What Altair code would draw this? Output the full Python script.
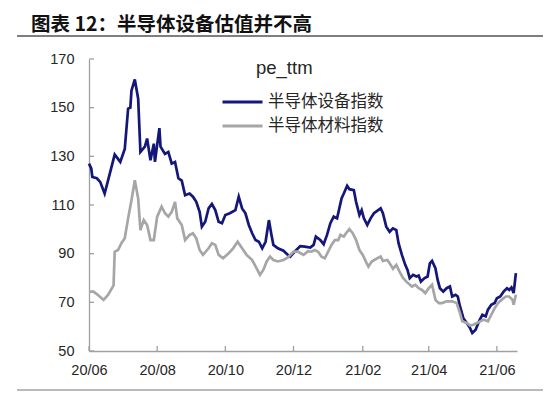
import altair as alt
import pandas as pd

# ---------------- data ----------------
START = "2020-06-01"
SERIES = ["半导体设备指数", "半导体材料指数"]
COLORS = ["#14167A", "#A6A6A6"]
TITLE = "图表 12：半导体设备估值并不高"
LEGEND_TITLE = "pe_ttm"

# day offsets from START and pe_ttm values
blue_day = [0, 2, 3, 7, 10, 14, 17, 23, 28, 32, 35, 37, 38, 41, 44, 46, 50, 52, 55, 58,
            59, 63, 64, 68, 71, 74, 77, 80, 83, 86,
            90, 93, 96, 99, 101, 104, 107, 110, 113, 116, 119, 122, 126, 131, 134, 137, 140, 143, 146, 149,
            152, 155, 158, 161, 163, 165, 169, 174, 178, 180, 184,
            189, 193, 198, 201, 203, 205, 207, 210, 213, 216, 219, 222, 224, 226, 228, 231, 233, 237, 239, 242,
            244, 246, 249, 252, 255, 261, 263, 266, 269, 272, 275, 277, 280, 283, 285, 287, 290, 293, 295, 297,
            300, 303, 305, 307, 310, 312, 314, 317, 320, 323, 325, 328, 330, 332, 335, 338, 341, 343, 346, 349,
            352, 355, 357, 360, 363, 365, 368, 371, 374, 376, 378, 380, 382]
blue_val = [127, 125, 121.5, 121, 119.5, 114.7, 120, 130.7, 127.7, 133, 149.6, 150, 157, 161.6, 153.7, 131.8, 134, 137.3, 128.4, 135.2,
            127.7, 141.6, 134, 131, 131.8, 127, 127.7, 121, 120, 114,
            114.7, 113.4, 111.3, 107.2, 101.1, 103.1, 108.6, 110.4, 107.9, 103.1, 102.5, 105.9, 106.6, 107.9, 113.4, 108.6, 106.6, 101.8, 98.4, 95.6,
            94.9, 92.2, 94.9, 103.8, 98.4, 93.6, 92.2, 91.2, 89.5, 88.8, 90.8,
            93.1, 92.9, 92.5, 93.6, 97, 96.3, 95.6, 93.9, 97.7, 102.5, 105.2, 104.5, 108.6, 112.7, 114.7, 117.9, 116.5, 116.1, 111.3, 105.9,
            107.9, 104.5, 101.8, 104.5, 106.6, 108.6, 106.6, 101.1, 99, 100.4, 99.7, 94.3, 89.5, 85.4, 83.3, 79.9, 81.3, 80.6, 81, 78.5,
            79.9, 80.6, 86, 87, 84, 79.2, 75.8, 74.4, 75.8, 76.5, 72.4, 73.1, 72.4, 68.3, 63.5, 61.5, 59.4, 57.4, 58.7, 62.2,
            64.9, 64.2, 67, 69, 69.7, 71.7, 72.4, 74.4, 75.8, 75.1, 76.1, 73.8, 82]

gray_day = [0, 4, 8, 13, 17, 22, 23, 26, 29, 32, 35, 38, 41, 44, 46, 49, 52, 55, 58, 61,
            65, 68, 71, 74, 77, 79, 83, 86,
            90, 93, 96, 99, 102, 107, 110, 113, 116, 120, 125, 129, 133, 137, 141, 146, 150, 153, 156, 159,
            162, 165, 169, 174, 178, 183, 187, 192,
            196, 199, 202, 205, 208, 211, 214, 217, 220, 223, 225, 228, 231, 233, 236, 239, 242, 245, 248, 250,
            253, 258, 261, 263, 267, 270, 272, 275, 278, 281, 284, 289, 292, 295, 298, 301, 304, 307, 310, 313,
            316, 320, 325, 329, 332, 334, 338, 341, 344, 349, 353, 357, 360, 363, 366, 369, 373, 376, 379, 380, 382]
gray_val = [74.4, 74.4, 73, 71, 73, 77, 90.8, 91.5, 94.3, 96.3, 104.5, 112, 120.2, 112.7, 99.7, 103.8, 101.8, 95.6, 95.6, 105.2,
            109.3, 106.6, 105.2, 107.2, 111.3, 104.5, 101.8, 95.6,
            97.7, 98.4, 96.3, 91.5, 89.5, 92.2, 94.3, 93.6, 89.5, 88.1, 90.2, 92.2, 94.9, 92.2, 89.5, 87.4, 84, 81.3, 83.3, 86.8,
            88.8, 87.4, 86.8, 87.4, 88.5, 90.8, 90.8, 89.5,
            91, 90.8, 91.5, 90.8, 88.8, 88.1, 90.8, 93.6, 95.6, 95.6, 97.7, 97, 99, 100.1, 98.4, 95.6, 91.5, 89.5, 86.5, 84.7,
            86.8, 88.1, 88.8, 87, 87.4, 85.4, 83.8, 85.4, 82.5, 80, 78.5, 76.5, 77.2, 75.8, 75.1, 73.8, 75.8, 77.2, 71, 69.7,
            69.7, 70.4, 70.4, 69.7, 65.6, 62.2, 61.5, 60.5, 60.8, 61.9, 62.9, 62.2, 64.9, 67.6, 69.7, 71, 72.4, 72.4, 71, 69, 73.1]

x_tick_dates = ["2020-06-01", "2020-08-01", "2020-10-01", "2020-12-01",
                "2021-02-01", "2021-04-01", "2021-06-01"]
y_ticks = [50, 70, 90, 110, 130, 150, 170]
X_END = "2021-06-19"

# ---------------- tables ----------------
start = pd.Timestamp(START)
df = pd.concat([
    pd.DataFrame({"date": start + pd.to_timedelta(blue_day, unit="D"), "v": blue_val, "s": SERIES[0], "o": 0}),
    pd.DataFrame({"date": start + pd.to_timedelta(gray_day, unit="D"), "v": gray_val, "s": SERIES[1], "o": 1}),
], ignore_index=True)
xt_df = pd.DataFrame({"date": pd.to_datetime(x_tick_dates)})
yt_df = pd.DataFrame({"v": y_ticks})


def dt(s):
    t = pd.Timestamp(s)
    return alt.DateTime(year=t.year, month=t.month, date=t.day)


W, H = 428, 292
AX = "#A0A0A0"
LBL = "#262626"
FONT = "Liberation Sans"
CJK = "Noto Sans CJK SC"

xscale = alt.Scale(domain=[dt(START), dt(X_END)])
yscale = alt.Scale(domain=[50, 170], nice=False)

lines = alt.Chart(df).mark_line(strokeWidth=2.7, interpolate="linear").encode(
    x=alt.X("date:T", scale=xscale, title=None,
            axis=alt.Axis(values=[dt(d) for d in x_tick_dates], format="%y/%m",
                          ticks=False, tickSize=0, grid=False, domainColor=AX, domainWidth=1.3,
                          labelFont=FONT, labelFontSize=14.5, labelColor=LBL, labelPadding=12,
                          labelFlush=False)),
    y=alt.Y("v:Q", scale=yscale, title=None,
            axis=alt.Axis(values=y_ticks, ticks=False, tickSize=0, grid=False,
                          domainColor=AX, domainWidth=1.3,
                          labelFont=FONT, labelFontSize=14.5, labelColor=LBL, labelPadding=15)),
    color=alt.Color("s:N", scale=alt.Scale(domain=SERIES, range=COLORS),
                    legend=alt.Legend(title=None, orient="none", legendX=132, legendY=33,
                                      symbolType="stroke", symbolSize=1600, symbolStrokeWidth=3,
                                      clipHeight=20, rowPadding=4, padding=0,
                                      labelFont=CJK, labelFontSize=16.5, labelColor=LBL,
                                      labelOffset=4)),
    order="o:Q",
)

xticks = alt.Chart(xt_df).mark_rule(color=AX, strokeWidth=1.3).encode(
    x=alt.X("date:T", scale=xscale), y=alt.value(H), y2=alt.value(H - 5))
yticks = alt.Chart(yt_df).mark_rule(color=AX, strokeWidth=1.3).encode(
    y=alt.Y("v:Q", scale=yscale), x=alt.value(0), x2=alt.value(5))

one = pd.DataFrame({"t": [TITLE], "lt": [LEGEND_TITLE]})
title = alt.Chart(one).mark_text(align="left", baseline="alphabetic", font=CJK, fontWeight="bold",
                                 fontSize=19.5, color="#111111").encode(
    text="t:N", x=alt.value(-58), y=alt.value(-28))
ltitle = alt.Chart(one).mark_text(align="left", baseline="alphabetic", font=FONT,
                                  fontSize=18.5, color=LBL).encode(
    text="lt:N", x=alt.value(167), y=alt.value(15))
top_rule = alt.Chart(one).mark_rule(color="#555555", strokeWidth=1.5).encode(
    x=alt.value(-72), x2=alt.value(454), y=alt.value(-23))
bot_rule = alt.Chart(one).mark_rule(color="#777777", strokeWidth=1.2).encode(
    x=alt.value(-72), x2=alt.value(454), y=alt.value(331))

chart = alt.layer(top_rule, bot_rule, title, ltitle, xticks, yticks, lines).properties(
    width=W, height=H,
    autosize=alt.AutoSizeParams(type="none"),
    padding={"left": 81, "top": 51, "right": 33, "bottom": 43},
).configure_view(strokeWidth=0).resolve_scale(color="independent")

chart.save("out.html", embed_options={"renderer": "svg", "actions": False})
